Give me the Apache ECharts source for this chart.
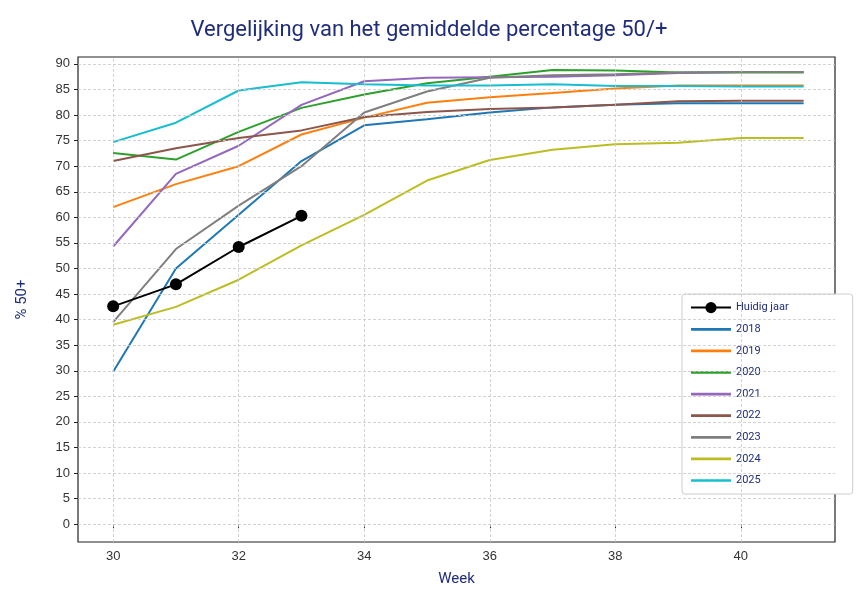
<!DOCTYPE html>
<html>
<head>
<meta charset="utf-8">
<script src="https://cdn.jsdelivr.net/npm/echarts@6/dist/echarts.min.js"></script>
<style>html,body{margin:0;background:#fff}#main{width:858px;height:592px}</style>
</head>
<body>
<div id="main"></div>
<script>
var weeks = [30, 31, 32, 33, 34, 35, 36, 37, 38, 39, 40, 41];
var huidig = [42.6, 46.9, 54.2, 60.3];
var y2018 = [29.8, 50, 60.5, 71, 78, 79.2, 80.5, 81.5, 82, 82.3, 82.3, 82.3];
var y2019 = [62, 66.5, 70, 76.2, 79.5, 82.4, 83.5, 84.3, 85.2, 85.8, 85.8, 85.8];
var y2020 = [72.6, 71.3, 76.7, 81.4, 84, 86.2, 87.5, 88.8, 88.7, 88.3, 88.3, 88.3];
var y2021 = [54.3, 68.5, 74, 82, 86.6, 87.3, 87.4, 87.5, 87.8, 88.2, 88.4, 88.4];
var y2022 = [71, 73.5, 75.5, 77, 79.6, 80.6, 81.2, 81.5, 82, 82.7, 82.8, 82.8];
var y2023 = [39.5, 53.8, 62.3, 70, 80.5, 84.6, 87.3, 87.8, 88, 88.3, 88.4, 88.4];
var y2024 = [39, 42.5, 47.8, 54.5, 60.5, 67.2, 71.2, 73.2, 74.3, 74.6, 75.5, 75.5];
var y2025 = [74.7, 78.5, 84.8, 86.4, 86, 85.8, 85.8, 86, 85.7, 85.7, 85.6, 85.6];
var yTicks = [0, 5, 10, 15, 20, 25, 30, 35, 40, 45, 50, 55, 60, 65, 70, 75, 80, 85, 90];
var xTicks = [30, 32, 34, 36, 38, 40];

var navy = '#1f2d7a';
var font = '"Liberation Sans Narrow", "Roboto", sans-serif';
var lineIcon = 'path://M0,0H30V2H0Z';

function pairs(vals) {
    return vals.map(function (v, i) { return [weeks[i], v]; });
}

var years = [
    ['2018', y2018, '#1f77b4'],
    ['2019', y2019, '#ff7f0e'],
    ['2020', y2020, '#2ca02c'],
    ['2021', y2021, '#9467bd'],
    ['2022', y2022, '#8c564b'],
    ['2023', y2023, '#7f7f7f'],
    ['2024', y2024, '#bcbd22'],
    ['2025', y2025, '#17becf']
];

var gridLines = [];
yTicks.forEach(function (v) { gridLines.push({ yAxis: v }); });
xTicks.forEach(function (v) { gridLines.push({ xAxis: v }); });

var series = [{
    name: 'grid', type: 'line', data: [], silent: true,
    markLine: {
        symbol: 'none', silent: true, label: { show: false },
        lineStyle: { color: '#c8c8c8', type: [3, 2], width: 0.8 },
        data: gridLines
    }
}];
years.forEach(function (y) {
    series.push({
        name: y[0], type: 'line', data: pairs(y[1]), showSymbol: false,
        lineStyle: { color: y[2], width: 2 }, itemStyle: { color: y[2] }, z: 3
    });
});
series.push({
    name: 'Huidig jaar', type: 'line', data: pairs(huidig), symbol: 'circle', symbolSize: 12,
    lineStyle: { color: '#000', width: 2 }, itemStyle: { color: '#000' }, z: 5
});

var legendData = [{ name: 'Huidig jaar' }];
years.forEach(function (y) { legendData.push({ name: y[0], icon: lineIcon }); });

var myChart = echarts.init(document.getElementById('main'));
var option = {
    animation: false,
    title: {
        text: 'Vergelijking van het gemiddelde percentage 50/+',
        left: 'center', top: 14,
        textStyle: { color: navy, fontFamily: font, fontWeight: 'normal', fontSize: 22 }
    },
    grid: { left: 78, right: 23, top: 57, bottom: 45, show: true, borderColor: '#222', borderWidth: 1.2 },
    xAxis: {
        type: 'value', min: 29.44, max: 41.5,
        name: 'Week', nameLocation: 'middle', nameGap: 30,
        nameTextStyle: { color: navy, fontFamily: font, fontSize: 15 },
        axisLine: { show: false }, splitLine: { show: false },
        axisTick: { show: true, customValues: xTicks, length: 4, lineStyle: { color: '#222' } },
        axisLabel: { customValues: xTicks, color: '#333', fontSize: 13, margin: 8 }
    },
    yAxis: {
        type: 'value', min: -3.48, max: 91.35,
        name: '% 50+', nameLocation: 'middle', nameGap: 48,
        nameTextStyle: { color: navy, fontFamily: font, fontSize: 15 },
        axisLine: { show: false }, splitLine: { show: false },
        axisTick: { show: true, customValues: yTicks, length: 4, lineStyle: { color: '#222' } },
        axisLabel: { customValues: yTicks, color: '#333', fontSize: 13, margin: 8 }
    },
    legend: {
        orient: 'vertical', left: 682, top: 294,
        padding: [8, 64, 8, 8], itemGap: 10.6, itemWidth: 40, itemHeight: 14,
        backgroundColor: '#fff', borderColor: '#ccc', borderWidth: 1, borderRadius: 3,
        textStyle: { color: navy, fontFamily: font, fontSize: 11 },
        data: legendData
    },
    series: series
};
myChart.setOption(option);
</script>
</body>
</html>
